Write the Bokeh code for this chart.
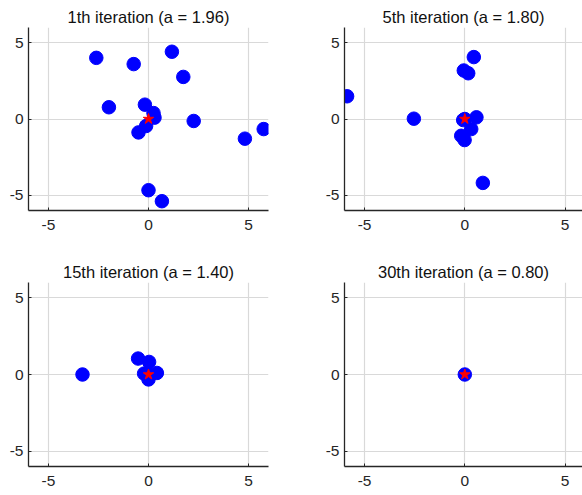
from bokeh.plotting import figure
from bokeh.layouts import column, row
from bokeh.models import FixedTicker, Range1d
from bokeh.embed import file_html
from bokeh.resources import INLINE

titles = ["1th iteration (a = 1.96)", "5th iteration (a = 1.80)",
          "15th iteration (a = 1.40)", "30th iteration (a = 0.80)"]
ticks = [-5, 0, 5]
tick_labels = ["-5", "0", "5"]

x1 = [-2.61, -0.74, 1.17, 1.74, -1.98, -0.18, 0.25, 0.30, -0.12, -0.50, 2.26, 4.82, 5.76, 0.00, 0.67]
y1 = [4.01, 3.60, 4.41, 2.76, 0.77, 0.94, 0.39, 0.09, -0.46, -0.88, -0.13, -1.29, -0.66, -4.67, -5.39]

x2 = [-5.87, -2.54, 0.45, -0.05, 0.17, -0.08, 0.00, 0.58, 0.32, -0.18, -0.01, 0.90]
y2 = [1.49, 0.02, 4.06, 3.18, 3.00, -0.07, 0.00, 0.11, -0.66, -1.10, -1.38, -4.19]

x3 = [-3.30, -0.52, 0.03, -0.22, 0.42, 0.00, 0.00]
y3 = [0.00, 1.04, 0.82, 0.06, 0.10, -0.32, 0.00]

x4 = [0.00]
y4 = [0.00]

best_x = [0.0]
best_y = [0.0]

FONT = "Liberation Sans"
TXT = "#262626"


def make(title, xs, ys, fw, fh, bl, br, bt, bb, xend):
    p = figure(frame_width=fw, frame_height=fh, output_backend="svg",
               toolbar_location=None, x_range=Range1d(-6, xend), y_range=Range1d(-6, 6),
               min_border_left=bl, min_border_right=br, min_border_top=bt, min_border_bottom=bb)
    p.title.text = title
    p.title.align = "center"
    p.title.text_font = FONT
    p.title.text_font_size = "16.5px"
    p.title.text_font_style = "normal"
    p.title.text_color = "#111111"
    p.title.standoff = 4
    p.outline_line_color = None
    p.background_fill_color = "white"
    p.border_fill_color = "white"
    for ax in (p.xaxis[0], p.yaxis[0]):
        ax.ticker = FixedTicker(ticks=ticks)
        ax.major_label_overrides = {t: l for t, l in zip(ticks, tick_labels)}
        ax.major_label_text_font = FONT
        ax.major_label_text_font_size = "15.5px"
        ax.major_label_text_color = TXT
        ax.axis_line_color = TXT
        ax.axis_line_width = 1.3
        ax.major_tick_in = 3
        ax.major_tick_out = 0
        ax.major_tick_line_color = TXT
        ax.minor_tick_line_color = None
    p.xaxis[0].major_label_standoff = 9
    p.yaxis[0].major_label_standoff = 5
    for g in (p.xgrid[0], p.ygrid[0]):
        g.ticker = FixedTicker(ticks=ticks)
        g.grid_line_color = "#d9d9d9"
        g.grid_line_width = 1.2
    p.scatter(xs, ys, size=13.5, marker="circle", fill_color="#0000ff", line_color="#0000ff")
    p.scatter(best_x, best_y, size=11, marker="star", fill_color="#ff0000", line_color="#ff0000")
    return p


p1 = make(titles[0], x1, y1, 240, 183, 28, 22, 27, 48, 6)
p2 = make(titles[1], x2, y2, 238, 183, 54, 0, 27, 48, 5.87)
p3 = make(titles[2], x3, y3, 240, 184, 28, 22, 19, 29, 6)
p4 = make(titles[3], x4, y4, 238, 184, 54, 0, 19, 29, 5.87)

layout = column(row(p1, p2, spacing=0), row(p3, p4, spacing=0), spacing=0)

open("out.html", "w").write(file_html(layout, INLINE))
